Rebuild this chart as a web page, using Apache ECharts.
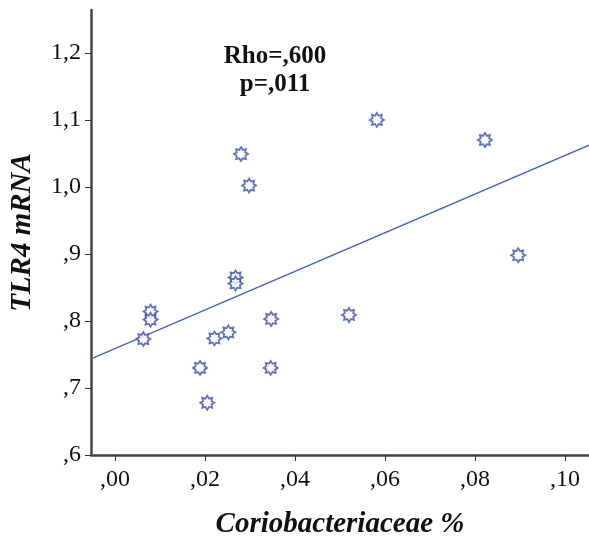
<!DOCTYPE html>
<html>
<head>
<meta charset="utf-8">
<script src="https://cdn.jsdelivr.net/npm/echarts@6/dist/echarts.min.js"></script>
<style>html,body{margin:0;padding:0;background:#fff}#c{width:589px;height:544px}</style>
</head>
<body>
<div id="c"></div>
<script>
// Coriobacteriaceae % (x) vs TLR4 mRNA (y)
const coriobacteriaceae = [0.0063, 0.0079, 0.0079, 0.0189, 0.0205, 0.0221, 0.0252, 0.0280, 0.0298, 0.0268, 0.0268, 0.0347, 0.0346, 0.0520, 0.0582, 0.0822, 0.0896];
const tlr4mRNA          = [0.773,  0.814,  0.802,  0.730,  0.678,  0.774,  0.783,  1.049,  1.002,  0.865,  0.856,  0.803,  0.730,  0.809,  1.100,  1.070,  0.898];
const fitLineX = [-0.00533, 0.10533];
const fitLineY = [0.7435, 1.0623];
const xTicks = [0, 0.02, 0.04, 0.06, 0.08, 0.10];
const yTicks = [0.6, 0.7, 0.8, 0.9, 1.0, 1.1, 1.2];
const annotation = ['Rho=,600', 'p=,011'];

// 8-point star marker path
let pts = [];
for (let i = 0; i < 16; i++) {
  const a = i * Math.PI / 8 - Math.PI / 2;
  const r = i % 2 === 0 ? 10 : 6.5;
  pts.push((r * Math.cos(a)).toFixed(3) + ' ' + (r * Math.sin(a)).toFixed(3));
}
const starPath = 'path://M' + pts.join(' L') + ' Z';

const serif = '"Liberation Serif", "Times New Roman", serif';
const blue = '#3a51b0';

const chart = echarts.init(document.getElementById('c'));
chart.setOption({
  animation: false,
  backgroundColor: '#fff',
  grid: { left: 91, right: 0, top: 10, bottom: 79, containLabel: false },
  xAxis: {
    type: 'value', min: -0.00533, max: 0.10533,
    splitLine: { show: false },
    axisLine: { show: true, onZero: false, lineStyle: { color: '#444', width: 2.5 } },
    axisTick: { show: true, customValues: xTicks, length: 6, lineStyle: { color: '#333', width: 1 } },
    axisLabel: {
      customValues: xTicks, margin: 13,
      fontFamily: serif, fontSize: 24, color: '#111',
      formatter: v => v.toFixed(2).replace(/^0\./, ',')
    },
    name: 'Coriobacteriaceae %', nameLocation: 'middle', nameGap: 55,
    nameTextStyle: { fontFamily: serif, fontSize: 29, fontStyle: 'italic', fontWeight: 'bold', color: '#111' }
  },
  yAxis: {
    type: 'value', min: 0.6, max: 1.264,
    splitLine: { show: false },
    axisLine: { show: true, onZero: false, lineStyle: { color: '#444', width: 2.5 } },
    axisTick: { show: true, customValues: yTicks, length: 6, lineStyle: { color: '#333', width: 1 } },
    axisLabel: {
      customValues: yTicks, margin: 10,
      fontFamily: serif, fontSize: 24, color: '#111',
      formatter: v => v.toFixed(1).replace('.', ',').replace(/^0,/, ',')
    },
    name: 'TLR4 mRNA', nameLocation: 'middle', nameGap: 54,
    nameTextStyle: { fontFamily: serif, fontSize: 29, fontStyle: 'italic', fontWeight: 'bold', color: '#111' }
  },
  graphic: [
    { type: 'text', x: 275, y: 43, style: { text: annotation.join('\n'), fill: '#111', font: 'bold 25px ' + serif, align: 'center', verticalAlign: 'top', lineHeight: 28 } }
  ],
  series: [
    {
      type: 'line', data: fitLineX.map((x, i) => [x, fitLineY[i]]),
      symbol: 'none', lineStyle: { color: '#4c64c3', width: 1.4 }, z: 1, silent: true
    },
    {
      type: 'scatter', data: coriobacteriaceae.map((x, i) => [x, tlr4mRNA[i]]),
      symbol: starPath, symbolSize: 14,
      itemStyle: { color: '#fff', borderColor: blue, borderWidth: 1.8 }, z: 2
    }
  ]
});
</script>
</body>
</html>
